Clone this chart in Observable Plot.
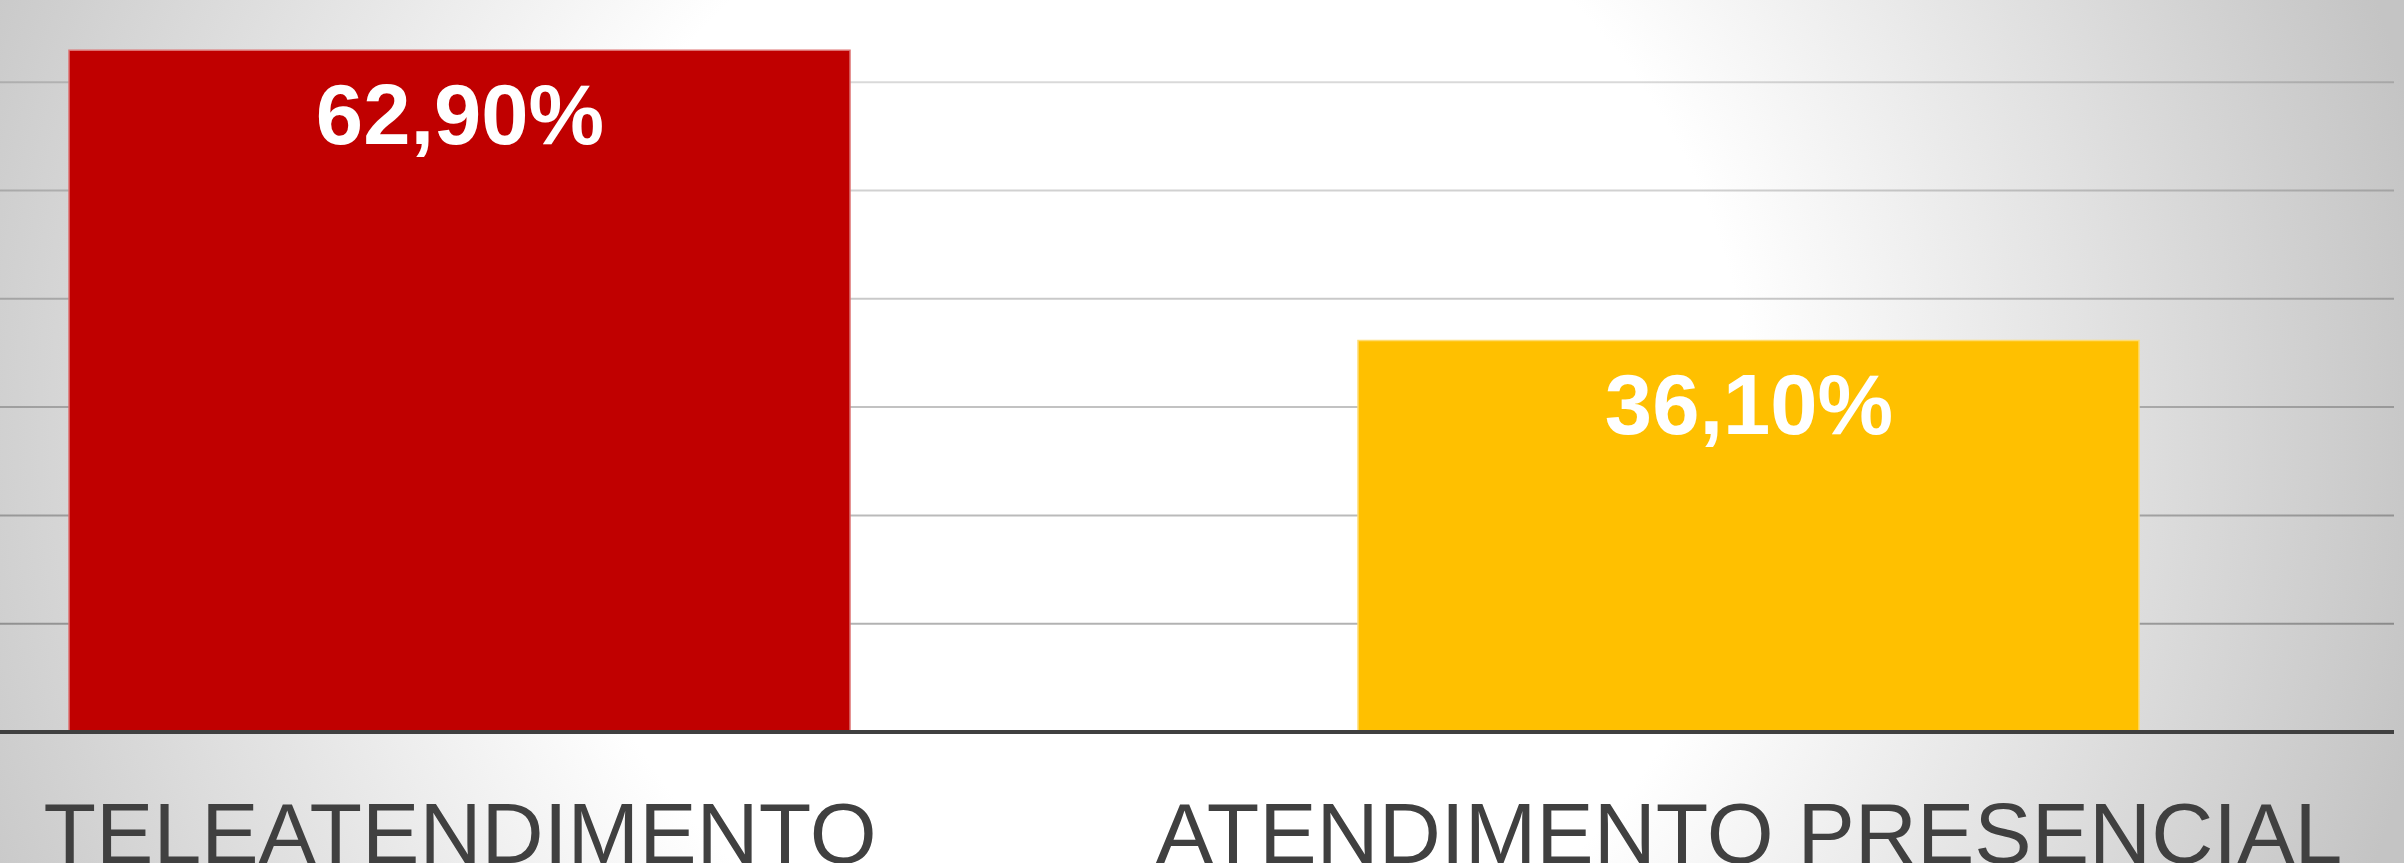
<!DOCTYPE html>
<html>
<head>
<meta charset="utf-8">
<script src="https://cdn.jsdelivr.net/npm/d3@7"></script>
<script src="https://cdn.jsdelivr.net/npm/@observablehq/plot@0.6"></script>
<style>
  html, body { margin: 0; padding: 0; overflow: hidden; background: #fff; }
  #chart svg { display: block; }
</style>
</head>
<body>
<div id="chart"></div>
<script>
const categories = ["TELEATENDIMENTO", "ATENDIMENTO PRESENCIAL"];
const values = [62.9, 36.1];
const barColors = ["#c00000", "#ffc000"];
const barEdges = ["#dd7070", "#ffdc70"];
const gridTicks = [10, 20, 30, 40, 50, 60];

const data = categories.map((c, i) => ({category: c, value: values[i], color: barColors[i], edge: barEdges[i]}));
const fmt = v => d3.format(".2f")(v).replace(".", ",") + "%";

const chart = Plot.plot({
  width: 2404,
  height: 863,
  marginTop: 0,
  marginLeft: 0,
  marginRight: 10,
  marginBottom: 131.5,
  style: {
    background: "radial-gradient(circle at 1150px 430px, #ffffff 600px, #c4c4c4 1300px)",
    fontFamily: "'Liberation Sans', Arial, sans-serif",
    overflow: "visible"
  },
  x: {domain: categories, range: [69, 2140], paddingInner: 0.394, paddingOuter: 0},
  y: {domain: [0, 67.54], axis: null},
  marks: [
    Plot.ruleY(gridTicks, {stroke: "#000", strokeWidth: 2, strokeOpacity: d => 0.33 - 0.003 * d}),
    Plot.barY(data, {x: "category", y: "value", fill: "color", stroke: "edge", strokeWidth: 1.5}),
    Plot.ruleY([0], {stroke: "#404040", strokeWidth: 4}),
    Plot.text(data, {
      x: "category", y: "value", text: d => fmt(d.value),
      fill: "#ffffff", fontSize: 85, fontWeight: "bold",
      lineAnchor: "bottom", dy: 92.8, textAnchor: "middle"
    }),
    Plot.axisX({tickSize: 0, tickPadding: 70, fontSize: 86, fill: "#404040", label: null})
  ]
});
document.getElementById("chart").appendChild(chart);
</script>
</body>
</html>
